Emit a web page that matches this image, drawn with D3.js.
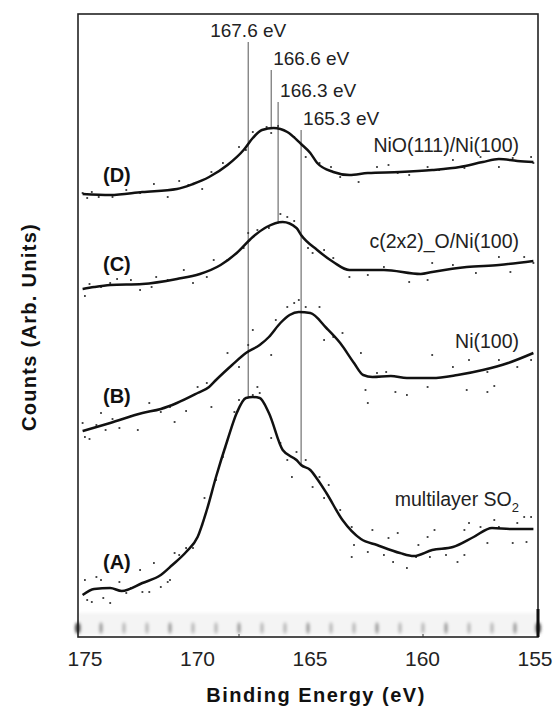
<!DOCTYPE html>
<html>
<head>
<meta charset="utf-8">
<script src="https://cdnjs.cloudflare.com/ajax/libs/d3/7.8.5/d3.min.js"></script>
<style>
  body { margin: 0; background: #fff; overflow: hidden; }
  svg { display: block; font-family: Arial, "Liberation Sans", sans-serif; }
</style>
</head>
<body>
<div id="chart"></div>
<script>
// Set dimensions
const width = 554;
const height = 709;
const margin = { top: 14, right: 16, bottom: 72, left: 78 };

// Data: binding energy (eV) vs counts (arb. units)
const energyTicks = [175, 170, 165, 160, 155];
const minorTicks = [168, 160];
const bandTicks = d3.range(155, 176);

const peakEnergies = [167.6, 166.6, 166.3, 165.3];
const peakLabels = ["167.6 eV", "166.6 eV", "166.3 eV", "165.3 eV"];
const peakSpectrum = [0, 3, 2, 0]; // which spectrum each marker line drops to

const spectrumNames = ["(A)", "(B)", "(C)", "(D)"];
const surfaceNames = ["multilayer SO", "Ni(100)", "c(2x2)_O/Ni(100)", "NiO(111)/Ni(100)"];

// smoothed curves
const lineA = [[174.8,42],[174.3,48],[173.6,49],[173.1,46],[172.2,54],[171.4,62],[170.9,72],[170.3,85],[169.8,100],[169.4,127],[169.0,160],[168.5,197],[168.1,224],[167.7,239],[167.4,240],[167.1,239],[166.7,224],[166.1,187],[165.5,177],[165.3,172],[164.9,167],[164.6,158],[164.2,144],[163.5,117],[162.7,98],[162.0,92],[161.0,84],[160.4,81],[159.6,87],[158.7,90],[157.8,100],[157.0,109],[156.2,108],[155.2,108]];
const lineB = [[174.8,206],[173.6,214],[172.2,224],[171.4,228],[170.7,234],[169.8,244],[169.3,250],[169.0,257],[168.3,272],[167.7,284],[167.1,292],[166.7,300],[166.2,314],[165.8,322],[165.4,325],[164.9,324],[164.2,309],[163.6,294],[163.0,274],[162.6,262],[162.2,260],[161.4,261],[160.7,259],[159.6,259],[158.5,262],[157.4,267],[156.3,274],[155.2,284]];
const lineC = [[174.8,348],[174.3,350],[173.6,352],[172.2,353],[170.7,358],[169.7,363],[168.8,372],[168.1,384],[167.4,400],[166.8,410],[166.1,415],[165.5,409],[165.3,402],[164.6,387],[163.9,375],[163.2,367],[161.7,367],[160.1,363],[159.6,365],[158.1,370],[156.7,372],[155.2,376]];
const lineD = [[174.8,443],[173.6,442],[172.2,445],[170.7,448],[170.0,453],[169.3,460],[168.5,472],[167.8,487],[167.4,499],[167.0,507],[166.5,509],[165.9,505],[165.3,493],[164.9,484],[164.6,474],[163.9,465],[163.2,462],[162.4,464],[161.0,465],[159.6,467],[158.4,470],[157.4,475],[156.7,478],[155.9,476],[155.2,475]];

// raw data points
const dotsA = [[174.7,57],[174.6,37],[174.4,35],[174.2,60],[174.0,57],[173.9,39],[173.6,34],[173.2,55],[172.9,44],[172.7,49],[172.3,67],[172.2,45],[171.9,45],[171.7,74],[171.4,50],[171.1,55],[171.0,57],[170.8,84],[170.6,82],[170.3,89],[170.0,89],[169.6,112],[169.5,139],[169.0,157],[168.7,180],[168.6,189],[168.2,225],[168.0,237],[167.4,242],[167.2,250],[167.1,244],[166.6,199],[166.2,194],[165.9,177],[165.7,160],[165.5,185],[165.1,177],[164.8,150],[164.5,160],[164.3,139],[164.1,152],[163.6,127],[163.1,110],[163.1,80],[163.0,92],[162.4,85],[162.2,107],[161.7,82],[161.5,99],[161.1,104],[161.3,75],[160.7,69],[160.3,80],[160.2,92],[159.8,100],[159.7,80],[159.5,107],[159.0,82],[158.5,75],[158.2,82],[158.2,107],[158.0,114],[157.5,110],[157.2,94],[156.9,117],[156.7,110],[156.1,94],[155.9,114],[155.6,120],[155.3,120],[155.5,95]];
const dotsB = [[174.8,214],[174.7,200],[174.5,198],[174.2,212],[174.0,224],[173.8,207],[173.5,218],[173.2,209],[172.7,221],[172.4,207],[171.9,234],[171.4,225],[171.0,230],[170.8,215],[170.3,226],[169.8,250],[169.4,254],[169.2,230],[168.5,284],[168.0,270],[167.6,292],[167.4,307],[167.0,294],[166.6,282],[166.4,317],[165.9,330],[165.6,334],[165.4,337],[165.1,330],[164.5,330],[164.3,297],[163.9,300],[163.5,304],[162.7,284],[162.5,247],[162.4,234],[162.0,264],[161.6,265],[161.2,245],[161.0,260],[160.7,242],[159.8,250],[159.6,282],[158.7,270],[158.1,247],[158.0,277],[157.2,265],[157.2,245],[156.9,251],[156.7,277],[155.9,270],[155.3,277]];
const dotsC = [[174.7,341],[174.5,353],[174.0,350],[173.6,354],[173.3,358],[172.7,357],[172.3,347],[171.8,350],[171.6,360],[171.1,357],[170.4,367],[170.0,354],[169.4,360],[169.1,377],[168.5,377],[167.8,389],[167.6,404],[167.2,407],[166.7,409],[166.2,423],[165.9,420],[165.6,416],[165.0,389],[164.8,384],[164.3,387],[163.9,379],[163.2,360],[162.4,362],[161.7,370],[160.6,355],[159.8,357],[159.6,374],[158.7,372],[157.7,364],[156.7,380],[156.2,365],[155.6,380],[155.2,374]];
const dotsD = [[174.8,444],[174.4,445],[174.6,439],[174.1,440],[173.5,440],[172.9,447],[172.3,444],[171.7,453],[171.1,440],[170.6,456],[170.2,452],[169.6,448],[169.2,465],[168.7,474],[168.0,490],[167.7,487],[167.4,505],[166.8,510],[166.6,504],[166.3,511],[165.6,500],[165.1,480],[164.5,474],[164.0,470],[163.6,460],[162.8,455],[162.0,470],[161.5,472],[161.1,464],[160.6,462],[159.8,470],[159.3,467],[158.7,477],[158.2,469],[157.5,480],[156.7,470],[156.1,479],[155.3,480],[155.2,474]];

const lines = [lineA, lineB, lineC, lineD];
const dots = [dotsA, dotsB, dotsC, dotsD];

// Layout for text
const peakLabelY = [37, 65, 97, 125];
const nameY = [569, 403, 271, 182];
const surfaceY = [506, 348, 248, 152];

const svg = d3.select("#chart")
    .append("svg")
    .attr("width", width)
    .attr("height", height);

const x = d3.scaleLinear()
    .domain([175, 155])
    .range([margin.left, width - margin.right]);

// tick labels in the original sit on a slightly narrower span
const xLabel = d3.scaleLinear()
    .domain([175, 155])
    .range([84.5, 534.5]);

const y = d3.scaleLinear()
    .domain([0, 623])
    .range([height - margin.bottom, margin.top]);

const plotBottom = height - margin.bottom;

// Blur filter for the smudged bottom band
const defs = svg.append("defs");
defs.append("filter").attr("id", "blur")
    .attr("x", "-50%").attr("y", "-50%").attr("width", "200%").attr("height", "200%")
    .append("feGaussianBlur").attr("stdDeviation", 1.6);

const band = svg.append("g").attr("filter", "url(#blur)");
band.append("rect")
    .attr("x", x(175)).attr("y", plotBottom - 24)
    .attr("width", x(155) - x(175)).attr("height", 22)
    .attr("fill", "#f4f4f4");
band.selectAll("ellipse")
    .data(bandTicks)
    .join("ellipse")
    .attr("cx", d => x(d))
    .attr("cy", plotBottom - 9)
    .attr("rx", d => (d === 175 || d === 155) ? 3 : 2)
    .attr("ry", 6)
    .attr("fill", d => (d === 175 || d === 155) ? "#444" : (d % 3 === 0 ? "#a0a0a0" : "#bcbcbc"));

// Frame
svg.append("rect")
    .attr("x", x(175)).attr("y", margin.top)
    .attr("width", x(155) - x(175)).attr("height", plotBottom - margin.top)
    .attr("fill", "none")
    .attr("stroke", "#222")
    .attr("stroke-width", 1.6);

svg.append("line")
    .attr("x1", x(155)).attr("x2", x(155))
    .attr("y1", plotBottom - 28).attr("y2", plotBottom)
    .attr("stroke", "#111").attr("stroke-width", 3);

svg.selectAll("line.minor")
    .data(minorTicks)
    .join("line")
    .attr("class", "minor")
    .attr("x1", d => x(d)).attr("x2", d => x(d))
    .attr("y1", plotBottom).attr("y2", plotBottom - 3)
    .attr("stroke", "#333");

// X axis tick labels
const xAxis = svg.append("g")
    .attr("transform", `translate(0,${plotBottom})`)
    .call(d3.axisBottom(xLabel).tickValues(energyTicks).tickSize(0).tickPadding(14).tickFormat(d3.format("d")));
xAxis.select(".domain").remove();
xAxis.selectAll("text")
    .attr("font-size", 21)
    .attr("font-family", "Arial, 'Liberation Sans', sans-serif")
    .attr("fill", "#222");

// Axis titles
svg.append("text")
    .attr("x", 316).attr("y", 702)
    .attr("text-anchor", "middle")
    .attr("font-size", 20).attr("font-weight", "bold")
    .attr("letter-spacing", 1.5)
    .attr("fill", "#111")
    .text("Binding Energy (eV)");

svg.append("text")
    .attr("transform", "translate(36,327) rotate(-90)")
    .attr("text-anchor", "middle")
    .attr("font-size", 20).attr("font-weight", "bold")
    .attr("letter-spacing", 1.3)
    .attr("fill", "#111")
    .text("Counts (Arb. Units)");

// Interpolate a curve at a given energy
function valueAt(curve, e) {
    for (let i = 0; i < curve.length - 1; i++) {
        const [e0, c0] = curve[i], [e1, c1] = curve[i + 1];
        if (e <= e0 && e >= e1) return c0 + (c1 - c0) * (e0 - e) / (e0 - e1);
    }
    return curve[curve.length - 1][1];
}

// Peak marker lines and labels
svg.selectAll("line.peak")
    .data(peakEnergies)
    .join("line")
    .attr("class", "peak")
    .attr("x1", d => x(d)).attr("x2", d => x(d))
    .attr("y1", (d, i) => peakLabelY[i] + 5)
    .attr("y2", (d, i) => y(valueAt(lines[peakSpectrum[i]], d)))
    .attr("stroke", "#555")
    .attr("stroke-width", 1);

svg.selectAll("text.peak")
    .data(peakLabels)
    .join("text")
    .attr("class", "peak")
    .attr("x", (d, i) => i === 0 ? x(peakEnergies[i]) : x(peakEnergies[i]) + 2)
    .attr("y", (d, i) => peakLabelY[i])
    .attr("text-anchor", (d, i) => i === 0 ? "middle" : "start")
    .attr("font-size", 19)
    .attr("fill", "#222")
    .text(d => d);

// Data points
const dotGroups = svg.selectAll("g.dots")
    .data(dots)
    .join("g")
    .attr("class", "dots");
dotGroups.selectAll("rect")
    .data(d => d)
    .join("rect")
    .attr("x", d => x(d[0]) - 0.9)
    .attr("y", d => y(d[1]) - 0.9)
    .attr("width", 1.8)
    .attr("height", 1.8)
    .attr("fill", "#333");

// Smoothed spectra
const lineGen = d3.line()
    .x(d => x(d[0]))
    .y(d => y(d[1]))
    .curve(d3.curveMonotoneX);

svg.selectAll("path.spectrum")
    .data(lines)
    .join("path")
    .attr("class", "spectrum")
    .attr("d", lineGen)
    .attr("fill", "none")
    .attr("stroke", "#111")
    .attr("stroke-width", 2.5)
    .attr("stroke-linejoin", "round");

// Spectrum letters
svg.selectAll("text.name")
    .data(spectrumNames)
    .join("text")
    .attr("class", "name")
    .attr("x", 103)
    .attr("y", (d, i) => nameY[i])
    .attr("font-size", 20)
    .attr("font-weight", "bold")
    .attr("fill", "#111")
    .text(d => d);

// Surface labels
const surf = svg.selectAll("text.surface")
    .data(surfaceNames)
    .join("text")
    .attr("class", "surface")
    .attr("x", 519)
    .attr("y", (d, i) => surfaceY[i])
    .attr("text-anchor", "end")
    .attr("font-size", 19.5)
    .attr("fill", "#222");
surf.append("tspan").text(d => d);
surf.filter((d, i) => i === 0)
    .append("tspan")
    .attr("dy", 6)
    .attr("font-size", 13)
    .text("2");
</script>
</body>
</html>
